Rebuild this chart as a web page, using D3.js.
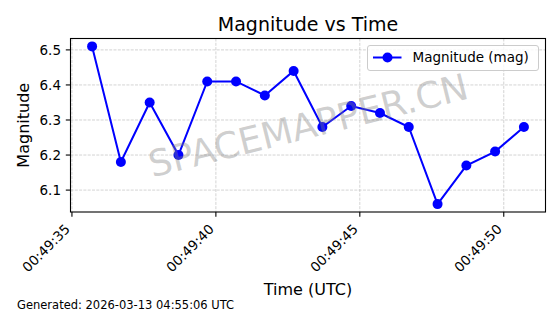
<!DOCTYPE html>
<html>
<head>
<meta charset="utf-8">
<script src="https://cdn.jsdelivr.net/npm/d3@7"></script>
<style>
  body { margin: 0; background: #fff; }
  svg { display: block; font-family: "DejaVu Sans", sans-serif; }
</style>
</head>
<body>
<svg width="560" height="314"></svg>
<script>
  // readings taken off the plot
  const times = [
    '00:49:35.700', '00:49:36.700', '00:49:37.700', '00:49:38.700',
    '00:49:39.700', '00:49:40.700', '00:49:41.700', '00:49:42.700',
    '00:49:43.700', '00:49:44.700', '00:49:45.700', '00:49:46.700',
    '00:49:47.700', '00:49:48.700', '00:49:49.700', '00:49:50.700'
  ];
  const magnitudes = [6.51, 6.18, 6.35, 6.20, 6.41, 6.41, 6.37, 6.44,
                      6.28, 6.34, 6.32, 6.28, 6.06, 6.17, 6.21, 6.28];
  const yTicks = [6.1, 6.2, 6.3, 6.4, 6.5];
  const seriesName = 'Magnitude (mag)';
  const titleText = 'Magnitude vs Time';
  const footerText = 'Generated: 2026-03-13 04:55:06 UTC';

  const parseTime = d3.utcParse('%H:%M:%S.%L');
  const data = times.map((t, i) => ({ t: parseTime(t), v: magnitudes[i] }));

  const svg = d3.select('svg');
  const axL = 70.5, axR = 545.5, axT = 38.5, axB = 212;

  // matplotlib style 5% padding
  const pad = ext => { const s = (ext[1] - ext[0]) * 0.05; return [ext[0] - s, ext[1] + s]; };
  const [t0, t1] = pad(d3.extent(data, d => +d.t));
  const x = d3.scaleUtc().domain([new Date(t0), new Date(t1)]).range([axL, axR]);
  const y = d3.scaleLinear().domain(pad(d3.extent(magnitudes))).range([axB, axT]);

  const xTicks = x.ticks(d3.utcSecond.every(5));
  const fmt = d3.utcFormat('%H:%M:%S');

  // grid
  const grid = svg.append('g')
    .attr('stroke', '#b0b0b0').attr('stroke-opacity', 0.7)
    .attr('stroke-width', 0.8).attr('stroke-dasharray', '3,1.3');
  grid.selectAll('.gx').data(xTicks).enter().append('line')
    .attr('x1', d => x(d)).attr('x2', d => x(d))
    .attr('y1', axT).attr('y2', axB);
  grid.selectAll('.gy').data(yTicks).enter().append('line')
    .attr('y1', d => y(d)).attr('y2', d => y(d))
    .attr('x1', axL).attr('x2', axR);

  // series
  const line = d3.line().x(d => x(d.t)).y(d => y(d.v));
  svg.append('path')
    .datum(data)
    .attr('d', line)
    .attr('fill', 'none')
    .attr('stroke', '#0000ff')
    .attr('stroke-width', 2);
  svg.selectAll('.pt').data(data).enter().append('circle')
    .attr('cx', d => x(d.t)).attr('cy', d => y(d.v))
    .attr('r', 5).attr('fill', '#0000ff');

  // spines
  svg.append('rect')
    .attr('x', axL).attr('y', axT)
    .attr('width', axR - axL).attr('height', axB - axT)
    .attr('fill', 'none').attr('stroke', '#000').attr('stroke-width', 1.1);

  // x ticks
  const xt = svg.append('g').selectAll('g').data(xTicks).enter().append('g')
    .attr('transform', d => `translate(${x(d)},${axB})`);
  xt.append('line').attr('y1', 0).attr('y2', 4.7).attr('stroke', '#000').attr('stroke-width', 1.1);
  xt.append('text')
    .attr('transform', 'translate(-1,18) rotate(-45)')
    .attr('text-anchor', 'end')
    .attr('font-size', 13.5)
    .attr('fill', '#000')
    .text(d => fmt(d));

  // y ticks
  const yt = svg.append('g').selectAll('g').data(yTicks).enter().append('g')
    .attr('transform', d => `translate(${axL},${y(d)})`);
  yt.append('line').attr('x1', 0).attr('x2', -4.7).attr('stroke', '#000').attr('stroke-width', 1.1);
  yt.append('text')
    .attr('x', -9.5).attr('dy', '0.36em')
    .attr('text-anchor', 'end')
    .attr('font-size', 13.5)
    .text(d => d3.format('.1f')(d));

  // title + axis labels
  svg.append('text')
    .attr('x', (axL + axR) / 2).attr('y', 30.5)
    .attr('text-anchor', 'middle').attr('font-size', 19)
    .text(titleText);
  svg.append('text')
    .attr('x', (axL + axR) / 2).attr('y', 295)
    .attr('text-anchor', 'middle').attr('font-size', 16)
    .text('Time (UTC)');
  svg.append('text')
    .attr('transform', `translate(29,${(axT + axB) / 2}) rotate(-90)`)
    .attr('text-anchor', 'middle').attr('font-size', 16)
    .text('Magnitude');

  // legend
  const lg = svg.append('g').attr('transform', 'translate(367.5,45.5)');
  lg.append('rect')
    .attr('width', 171).attr('height', 25).attr('rx', 2.5)
    .attr('fill', '#fff').attr('fill-opacity', 0.8)
    .attr('stroke', '#cccccc').attr('stroke-width', 1);
  lg.append('line')
    .attr('x1', 5.5).attr('x2', 34).attr('y1', 12).attr('y2', 12)
    .attr('stroke', '#0000ff').attr('stroke-width', 2);
  lg.append('circle').attr('cx', 20).attr('cy', 12).attr('r', 5).attr('fill', '#0000ff');
  lg.append('text')
    .attr('x', 45).attr('y', 12).attr('dy', '0.36em')
    .attr('font-size', 13.5)
    .text(seriesName);

  // watermark
  svg.append('text')
    .attr('transform', 'translate(308,125) rotate(-14)')
    .attr('text-anchor', 'middle').attr('dy', '0.36em')
    .attr('font-size', 36.5)
    .attr('fill', '#808080').attr('fill-opacity', 0.38)
    .text('SPACEMAPPER.CN');

  // footer
  svg.append('text')
    .attr('x', 17).attr('y', 309)
    .attr('font-size', 11.5)
    .text(footerText);
</script>
</body>
</html>
